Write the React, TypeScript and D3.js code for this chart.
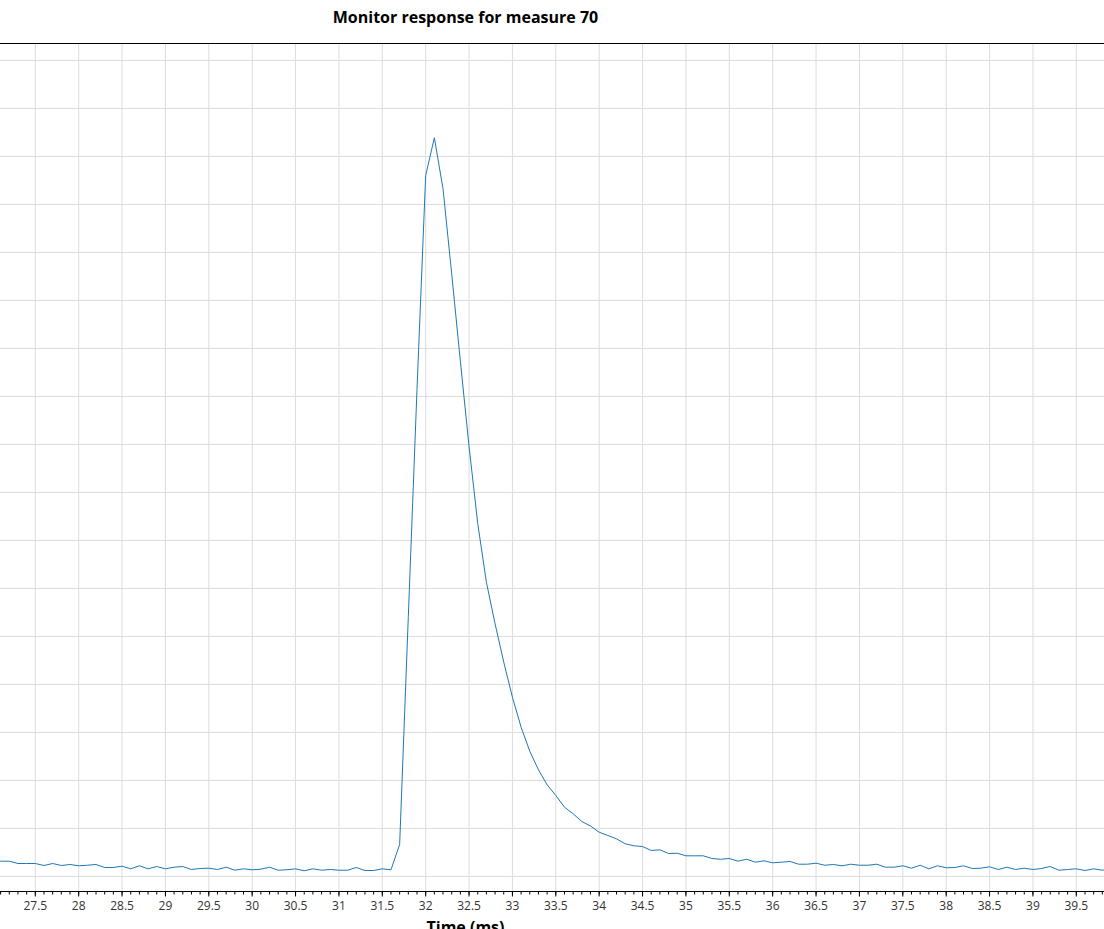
import React from 'react';
import * as d3 from 'd3';

// Monitor response samples (0.1 ms spacing), response in grid units
const times: number[] = [
  27.0, 27.1, 27.2, 27.3, 27.4, 27.5, 27.6, 27.7, 27.8, 27.9,
  28.0, 28.1, 28.2, 28.3, 28.4, 28.5, 28.6, 28.7, 28.8, 28.9,
  29.0, 29.1, 29.2, 29.3, 29.4, 29.5, 29.6, 29.7, 29.8, 29.9,
  30.0, 30.1, 30.2, 30.3, 30.4, 30.5, 30.6, 30.7, 30.8, 30.9,
  31.0, 31.1, 31.2, 31.3, 31.4, 31.5, 31.6, 31.7, 31.8, 31.9,
  32.0, 32.1, 32.2, 32.3, 32.4, 32.5, 32.6, 32.7, 32.8, 32.9,
  33.0, 33.1, 33.2, 33.3, 33.4, 33.5, 33.6, 33.7, 33.8, 33.9,
  34.0, 34.1, 34.2, 34.3, 34.4, 34.5, 34.6, 34.7, 34.8, 34.9,
  35.0, 35.1, 35.2, 35.3, 35.4, 35.5, 35.6, 35.7, 35.8, 35.9,
  36.0, 36.1, 36.2, 36.3, 36.4, 36.5, 36.6, 36.7, 36.8, 36.9,
  37.0, 37.1, 37.2, 37.3, 37.4, 37.5, 37.6, 37.7, 37.8, 37.9,
  38.0, 38.1, 38.2, 38.3, 38.4, 38.5, 38.6, 38.7, 38.8, 38.9,
  39.0, 39.1, 39.2, 39.3, 39.4, 39.5, 39.6, 39.7, 39.8, 39.9,
];

const response: number[] = [
  0.319, 0.319, 0.319, 0.271, 0.271, 0.271, 0.229, 0.271, 0.229, 0.250,
  0.223, 0.235, 0.250, 0.188, 0.188, 0.215, 0.160, 0.223, 0.160, 0.208,
  0.160, 0.194, 0.208, 0.146, 0.167, 0.173, 0.146, 0.194, 0.131, 0.160,
  0.140, 0.152, 0.194, 0.131, 0.140, 0.160, 0.119, 0.160, 0.131, 0.146,
  0.131, 0.131, 0.188, 0.125, 0.125, 0.160, 0.140, 0.667, 5.417, 10.146,
  14.604, 15.390, 14.327, 12.556, 10.735, 8.958, 7.354, 6.131, 5.265, 4.465,
  3.735, 3.110, 2.610, 2.223, 1.910, 1.688, 1.444, 1.306, 1.146, 1.052,
  0.923, 0.854, 0.785, 0.681, 0.640, 0.625, 0.542, 0.556, 0.479, 0.485,
  0.431, 0.431, 0.431, 0.375, 0.360, 0.375, 0.319, 0.360, 0.298, 0.327,
  0.285, 0.298, 0.313, 0.256, 0.256, 0.277, 0.235, 0.250, 0.223, 0.256,
  0.235, 0.235, 0.256, 0.194, 0.194, 0.223, 0.173, 0.235, 0.160, 0.223,
  0.181, 0.188, 0.223, 0.167, 0.173, 0.202, 0.146, 0.194, 0.146, 0.173,
  0.146, 0.167, 0.208, 0.131, 0.146, 0.160, 0.125, 0.160, 0.131, 0.146,
];

const majorTicks: number[] = [
  27.5, 28, 28.5, 29, 29.5, 30, 30.5, 31, 31.5, 32, 32.5, 33,
  33.5, 34, 34.5, 35, 35.5, 36, 36.5, 37, 37.5, 38, 38.5, 39, 39.5,
];

const title = 'Monitor response for measure 70';
const xTitle = 'Time (ms)';

const W = 1104;
const H = 929;
const plot = { left: 0, right: 1104, top: 43.5, bottom: 891.5 };
const font = '"Open Sans", "Noto Sans", sans-serif';

const App: React.FC = () => {
  const x = d3.scaleLinear().domain([27.0931, 39.8193]).range([plot.left, plot.right]);
  const y = d3.scaleLinear().domain([-0.3125, 17.354]).range([plot.bottom, plot.top]);

  const points = times.map((t, i) => ({ t, v: response[i] }));
  const line = d3.line<{ t: number; v: number }>()
    .x(d => x(d.t))
    .y(d => y(d.v));

  // minor ticks every 0.1 ms across the visible range
  const minorTicks = d3.range(271, 399).map(d => d / 10);
  const gridY = d3.range(0, 18);

  return (
    <svg
      width={W}
      height={H}
      style={{ position: 'absolute', left: 0, top: 0, background: '#fff' }}
      fontFamily={font}
    >
      <defs>
        <clipPath id="plot-clip">
          <rect x={plot.left} y={plot.top} width={plot.right - plot.left} height={plot.bottom - plot.top} />
        </clipPath>
      </defs>

      {/* grid */}
      <g stroke="#dcdcdc" strokeWidth={1}>
        {majorTicks.map(t => (
          <line key={'gx' + t} x1={x(t)} x2={x(t)} y1={plot.top} y2={plot.bottom} />
        ))}
        {gridY.map(v => (
          <line key={'gy' + v} x1={plot.left} x2={plot.right} y1={y(v)} y2={y(v)} />
        ))}
      </g>

      {/* top border */}
      <line x1={0} x2={W} y1={plot.top} y2={plot.top} stroke="#000" strokeWidth={1} />

      {/* series */}
      <path
        d={line(points) || ''}
        fill="none"
        stroke="#1f77b4"
        strokeWidth={1}
        clipPath="url(#plot-clip)"
      />

      {/* x axis */}
      <line x1={0} x2={W} y1={plot.bottom} y2={plot.bottom} stroke="#000" strokeWidth={1} />
      <g stroke="#000" strokeWidth={1}>
        {minorTicks.map(t => (
          <line key={'mt' + t} x1={x(t)} x2={x(t)} y1={plot.bottom} y2={plot.bottom + 3} />
        ))}
        {majorTicks.map(t => (
          <line key={'Mt' + t} x1={x(t)} x2={x(t)} y1={plot.bottom} y2={plot.bottom + 5} />
        ))}
      </g>
      <g fontSize={12} fill="#333" textAnchor="middle">
        {majorTicks.map(t => (
          <text key={'lb' + t} x={x(t)} y={910}>{String(t)}</text>
        ))}
      </g>

      <text x={465.5} y={932.5} textAnchor="middle" fontSize={16} fontWeight="bold" fill="#000">
        {xTitle}
      </text>

      <text x={465.5} y={23.3} textAnchor="middle" fontSize={16} fontWeight="bold" fill="#000">
        {title}
      </text>
    </svg>
  );
};

export default App;
